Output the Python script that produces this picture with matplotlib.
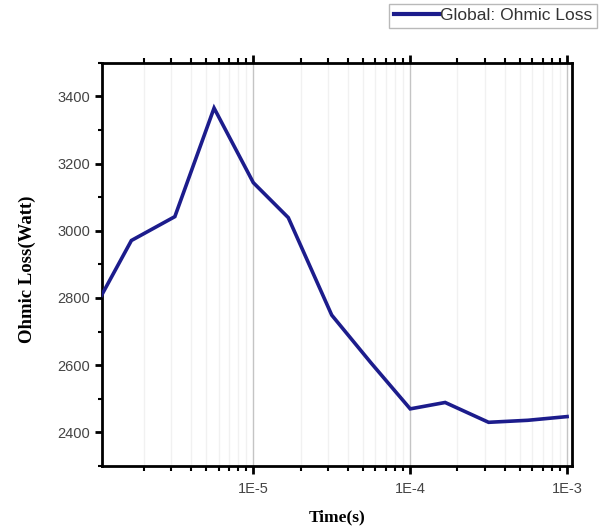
import matplotlib
matplotlib.use("Agg")
import matplotlib.pyplot as plt
from matplotlib.ticker import FixedLocator, FixedFormatter, MultipleLocator, LogLocator, NullFormatter

# ---- data ----
time_s = [1e-6, 1.67e-6, 3.16e-6, 5.62e-6, 1e-5, 1.67e-5, 3.16e-5, 5.62e-5,
          1e-4, 1.67e-4, 3.16e-4, 5.62e-4, 1e-3]
ohmic_loss = [2780, 2971, 3042, 3365, 3143, 3039, 2749, 2607,
              2470, 2489, 2430, 2436, 2447]
x_tick_values = [1e-5, 1e-4, 1e-3]
x_tick_labels = ["1E-5", "1E-4", "1E-3"]
y_tick_values = [2400, 2600, 2800, 3000, 3200, 3400]
series_label = "Global: Ohmic Loss"

fig = plt.figure(figsize=(6.05, 5.26), dpi=100)
ax = fig.add_axes([101.7 / 605, 1 - 466 / 526, 470 / 605, (466 - 62.7) / 526])

line_color = "#1c1c8c"
ln, = ax.plot(time_s, ohmic_loss, color=line_color, lw=2.6, solid_joinstyle="miter",
              label=series_label, zorder=3)

ax.set_xscale("log")
ax.set_xlim(1.08e-6, 1.07e-3)
ax.set_ylim(2300, 3500)

ax.xaxis.set_major_locator(FixedLocator(x_tick_values))
ax.xaxis.set_major_formatter(FixedFormatter(x_tick_labels))
ax.xaxis.set_minor_locator(LogLocator(base=10, subs=range(2, 10)))
ax.xaxis.set_minor_formatter(NullFormatter())
ax.yaxis.set_major_locator(FixedLocator(y_tick_values))
ax.yaxis.set_minor_locator(MultipleLocator(100))

# grid
ax.grid(True, which="major", axis="x", color="#c4c4c4", lw=1.0, zorder=0)
ax.grid(True, which="minor", axis="x", color="#f1f1f1", lw=1.0, zorder=0)
ax.grid(False, axis="y")

for s in ax.spines.values():
    s.set_linewidth(2.0)
    s.set_color("black")

ax.tick_params(axis="x", which="major", direction="out", length=6, width=2,
               top=True, labelsize=10.5, labelcolor="#444444", pad=5.5)
ax.tick_params(axis="x", which="minor", direction="out", length=3.5, width=1.5, top=True)
ax.tick_params(axis="y", which="major", direction="out", length=5, width=2,
               labelsize=10.5, labelcolor="#444444", pad=3.5)
ax.tick_params(axis="y", which="minor", direction="out", length=3, width=1.5)

for lab in ax.get_xticklabels() + ax.get_yticklabels():
    lab.set_family(["Liberation Sans", "DejaVu Sans"])

ax.set_xlabel("Time(s)", fontsize=12.5, fontweight="bold",
              family=["Liberation Serif", "DejaVu Serif"], labelpad=10)
ax.set_ylabel("Ohmic Loss(Watt)", fontsize=13.5, fontweight="bold",
              family=["Liberation Serif", "DejaVu Serif"])
ax.yaxis.set_label_coords(-0.14, 0.488)

leg = fig.legend(handles=[ln], loc="upper right", bbox_to_anchor=(597 / 605, 1 - 4 / 526),
                 frameon=True, fancybox=False, handlelength=2.6,
                 handletextpad=0.1, borderpad=0.25, borderaxespad=0,
                 prop={"family": ["Liberation Sans", "DejaVu Sans"], "size": 12.5})
leg.get_frame().set_edgecolor("#a8a8a8")
leg.get_frame().set_linewidth(1.0)
for t in leg.get_texts():
    t.set_color("#333333")
for h in leg.get_lines():
    h.set_linewidth(3.0)

fig.savefig("out.png", dpi=100)
